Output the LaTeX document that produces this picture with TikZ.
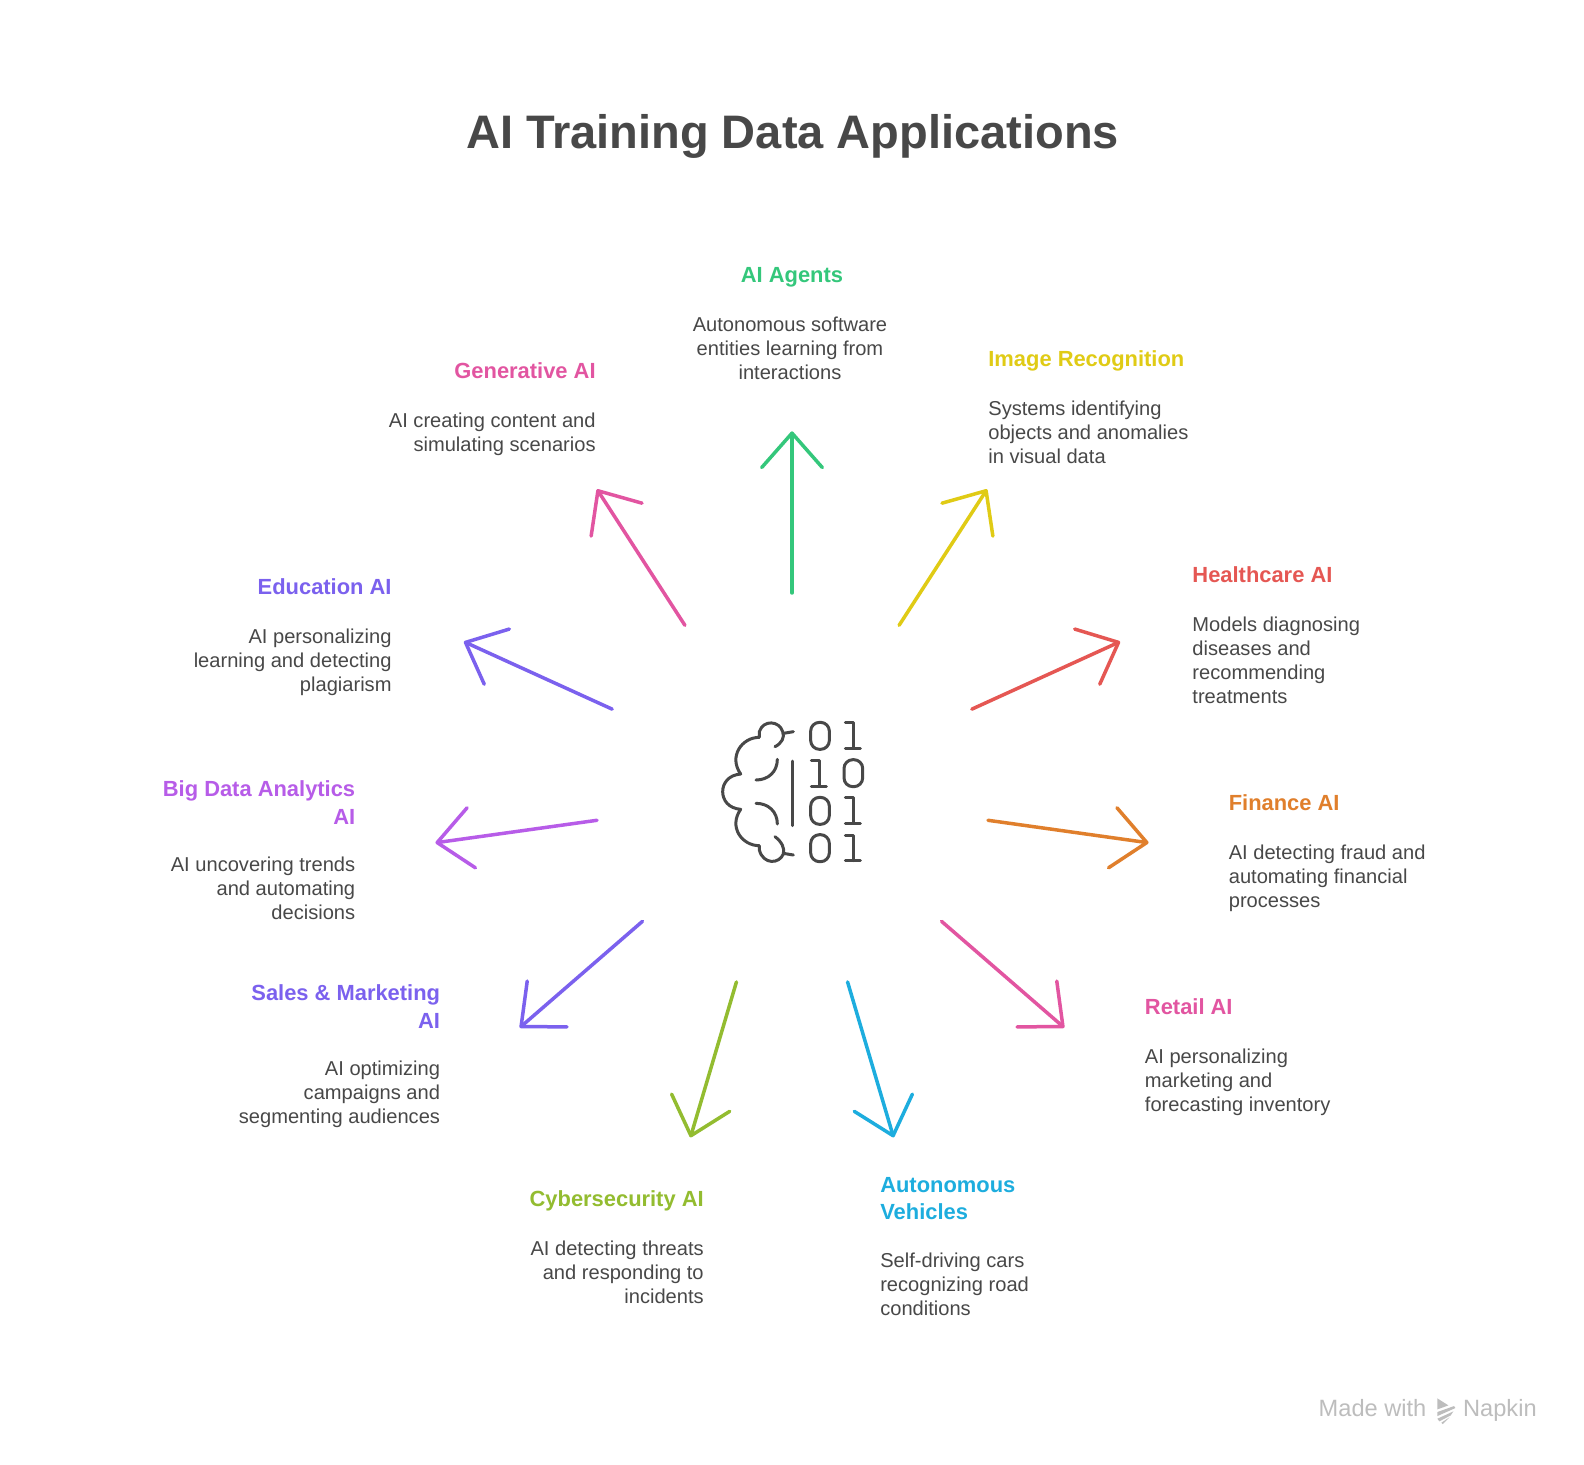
\documentclass[tikz,border=0pt]{standalone}
\usepackage{fontspec}
\setmainfont{Liberation Sans}
\usetikzlibrary{arrows.meta}
\definecolor{ink}{HTML}{484848}
\definecolor{cgreen}{HTML}{34C77B}
\definecolor{cyellow}{HTML}{E0CB15}
\definecolor{cred}{HTML}{E55753}
\definecolor{corange}{HTML}{E07F2C}
\definecolor{cpink}{HTML}{E255A1}
\definecolor{cblue}{HTML}{1DADDE}
\definecolor{colive}{HTML}{93BC30}
\definecolor{cviolet}{HTML}{7B61EE}
\definecolor{corchid}{HTML}{B75CE8}
\definecolor{foot}{HTML}{BDBDBD}
\tikzset{
  hd/.style={inner sep=0pt,font=\fontsize{10.95}{13.8}\selectfont\bfseries},
  ds/.style={inner sep=0pt,text=ink,font=\fontsize{10.05}{12.02}\selectfont},
  ray/.style={line width=1.75pt,line cap=round,line join=miter,shorten >=-1pt,-{Straight Barb[length=17.2pt,width=30.3pt,round]}},
  ico/.style={draw=ink,line width=1.5pt,line cap=round,line join=round},
}
\newcommand{\bitzero}[2]{\draw[ico,rounded corners=4.4pt] (#1-28,#2) rectangle (#1+28,#2+81);}
\newcommand{\bitone}[2]{\draw[ico] (#1-24,#2) -- (#1,#2) -- (#1,#2+77) (#1-24,#2+77) -- (#1+21,#2+77);}
\begin{document}
\begin{tikzpicture}[x=0.50510pt,y=-0.50510pt]
\useasboundingbox[fill=white] (0,0) rectangle (1568,1450);
\node[inner sep=0pt,text=ink,font=\fontsize{23.5}{28}\selectfont\bfseries] (title) at (784.5,135) {AI Training Data Applications};

% centre icon
\begin{scope}[shift={(692.93,692.93)},x=0.16667pt,y=-0.16667pt]
\draw[ico] (225,140) .. controls (245,130) and (255,112) .. (248,95)
  .. controls (238,62) and (190,58) .. (178,95) -- (178,112)
  .. controls (125,112) and (85,170) .. (122,222)
  .. controls (85,225) and (68,250) .. (68,275)
  .. controls (68,300) and (85,325) .. (122,328)
  .. controls (85,380) and (125,437) .. (178,437) -- (178,450)
  .. controls (190,495) and (238,492) .. (250,462)
  .. controls (255,445) and (245,425) .. (225,410);
\draw[ico] (250,100) -- (280,95) (250,460) -- (280,465);
\draw[ico] (232,178) .. controls (232,215) and (205,240) .. (168,240);
\draw[ico] (168,310) .. controls (205,310) and (232,335) .. (232,372);
\draw[ico] (277,183) -- (277,377);
\bitzero{360}{67}\bitone{460}{68}
\bitone{358}{181}\bitzero{460}{179}
\bitzero{360}{292}\bitone{460}{293}
\bitzero{360}{404}\bitone{460}{405}
\end{scope}

% labels
\node[hd,text=cgreen,anchor=north] (h1) at (784,264) {AI Agents};
\node[ds,anchor=north,align=center] (d1) at (782,313.5) {Autonomous software\\entities learning from\\interactions};
\node[hd,text=cyellow,anchor=north west] (h2) at (978,347) {Image Recognition};
\node[ds,anchor=north west,align=left] (d2) at (978,396.5) {Systems identifying\\objects and anomalies\\in visual data};
\node[hd,text=cred,anchor=north west] (h3) at (1180,560.5) {Healthcare AI};
\node[ds,anchor=north west,align=left] (d3) at (1180,610) {Models diagnosing\\diseases and\\recommending\\treatments};
\node[hd,text=corange,anchor=north west] (h4) at (1216,786.5) {Finance AI};
\node[ds,anchor=north west,align=left] (d4) at (1216,836) {AI detecting fraud and\\automating financial\\processes};
\node[hd,text=cpink,anchor=north west] (h5) at (1133,988.5) {Retail AI};
\node[ds,anchor=north west,align=left] (d5) at (1133,1038) {AI personalizing\\marketing and\\forecasting inventory};
\node[hd,text=cblue,anchor=north west,align=left] (h6) at (871,1165) {Autonomous\\Vehicles};
\node[ds,anchor=north west,align=left] (d6) at (871,1240) {Self-driving cars\\recognizing road\\conditions};
\node[hd,text=colive,anchor=north east] (h7) at (697,1178.5) {Cybersecurity AI};
\node[ds,anchor=north east,align=right] (d7) at (697,1228) {AI detecting threats\\and responding to\\incidents};
\node[hd,text=cviolet,anchor=north east,align=right] (h8) at (436,974.5) {Sales \& Marketing\\AI};
\node[ds,anchor=north east,align=right] (d8) at (436,1050) {AI optimizing\\campaigns and\\segmenting audiences};
\node[hd,text=corchid,anchor=north east,align=right] (h9) at (352,772.5) {Big Data Analytics\\AI};
\node[ds,anchor=north east,align=right] (d9) at (352,848) {AI uncovering trends\\and automating\\decisions};
\node[hd,text=cviolet,anchor=north east] (h10) at (388,572.5) {Education AI};
\node[ds,anchor=north east,align=right] (d10) at (388,622) {AI personalizing\\learning and detecting\\plagiarism};
\node[hd,text=cpink,anchor=north east] (h11) at (590,358.5) {Generative AI};
\node[ds,anchor=north east,align=right] (d11) at (590,408) {AI creating content and\\simulating scenarios};

% rays
\coordinate (s1) at (784,587);   \coordinate (t1) at (784,429);
\coordinate (s2) at (890,619);   \coordinate (t2) at (976,486);
\coordinate (s3) at (962,702);   \coordinate (t3) at (1107,636);
\coordinate (s4) at (978,812);   \coordinate (t4) at (1135,834);
\coordinate (s5) at (932,912);   \coordinate (t5) at (1052,1016);
\coordinate (s6) at (839,972);   \coordinate (t6) at (884,1124);
\coordinate (s7) at (729,972);   \coordinate (t7) at (684,1124);
\coordinate (s8) at (636,912);   \coordinate (t8) at (516,1016);
\coordinate (s9) at (591,812);   \coordinate (t9) at (433,834);
\coordinate (s10) at (606,702);  \coordinate (t10) at (461,636);
\coordinate (s11) at (678,619);  \coordinate (t11) at (592,486);
\draw[ray,cgreen] (s1) -- (t1);
\draw[ray,cyellow] (s2) -- (t2);
\draw[ray,cred] (s3) -- (t3);
\draw[ray,corange] (s4) -- (t4);
\draw[ray,cpink] (s5) -- (t5);
\draw[ray,cblue] (s6) -- (t6);
\draw[ray,colive] (s7) -- (t7);
\draw[ray,cviolet] (s8) -- (t8);
\draw[ray,corchid] (s9) -- (t9);
\draw[ray,cviolet] (s10) -- (t10);
\draw[ray,cpink] (s11) -- (t11);

% footer
\node[inner sep=0pt,anchor=base west,text=foot,font=\fontsize{11.8}{14}\selectfont] (made) at (1305,1402) {Made with};
\node[inner sep=0pt,anchor=base west,text=foot,font=\fontsize{11.8}{14}\selectfont] (napkin) at (1448,1402) {Napkin};
\begin{scope}[shift={(1286.9,1366.1)},x=0.16667pt,y=-0.16667pt]
\fill[foot] (412,55) -- (445,76) -- (412,88) -- cycle;
\fill[foot] (412,96) -- (462,78) -- (466,84) -- (412,108) -- cycle;
\fill[foot] (412,116) -- (460,94) -- (452,106) -- (418,124) -- cycle;
\fill[foot] (424,128) -- (448,112) -- (428,132) -- cycle;
\end{scope}
\end{tikzpicture}
\end{document}
